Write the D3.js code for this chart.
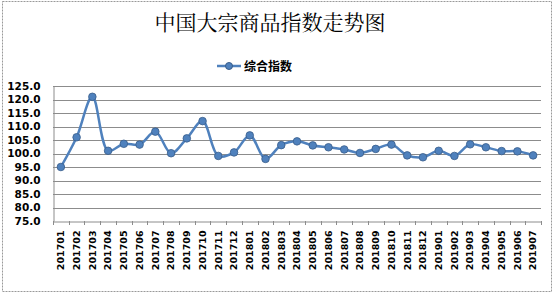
<!DOCTYPE html>
<html lang="zh">
<head>
<meta charset="utf-8" />
<script src="https://d3js.org/d3.v7.min.js"></script>
<style>
  body { margin: 0; background: #fff; }
  text { font-family: "DejaVu Sans", Verdana, sans-serif; }
</style>
</head>
<body>
<script>
// months and composite index values
const months = ["201701","201702","201703","201704","201705","201706","201707","201708","201709","201710",
  "201711","201712","201801","201802","201803","201804","201805","201806","201807","201808","201809",
  "201810","201811","201812","201901","201902","201903","201904","201905","201906","201907"];
const indexValues = [95.0, 106.0, 121.0, 101.0, 103.6, 103.3, 108.1, 100.1, 105.6, 112.0,
  99.1, 100.4, 106.7, 98.0, 103.1, 104.5, 103.0, 102.3, 101.5, 100.2, 101.7,
  103.3, 99.3, 98.6, 101.0, 99.1, 103.4, 102.3, 100.9, 100.8, 99.3];
const yTicks = [75, 80, 85, 90, 95, 100, 105, 110, 115, 120, 125];
const seriesName = "综合指数";
const title = "中国大宗商品指数走势图";

const width = 554, height = 295;
const plotLeft = 53, plotRight = 541, plotTop = 86, plotBottom = 221;

const svg = d3.select("body").append("svg")
  .attr("width", width).attr("height", height);

// chart border
svg.append("rect")
  .attr("x", 2.5).attr("y", 1.5).attr("width", 549).attr("height", 290)
  .attr("fill", "none").attr("stroke", "#999").attr("stroke-dasharray", "2,1");

svg.append("text")
  .attr("x", 270).attr("y", 30)
  .attr("text-anchor", "middle")
  .style("font-family", "'Noto Serif CJK SC','Noto Sans CJK SC',serif")
  .style("font-size", "21px")
  .text(title);

// legend
const lg = svg.append("g");
lg.append("line").attr("x1", 217).attr("x2", 241).attr("y1", 66).attr("y2", 66)
  .attr("stroke", "#4F81BD").attr("stroke-width", 2.5);
lg.append("circle").attr("cx", 229).attr("cy", 66).attr("r", 3.5)
  .attr("fill", "#4F81BD").attr("stroke", "#385D8A");
lg.append("text").attr("x", 244).attr("y", 70.5)
  .style("font-family", "'Noto Sans CJK SC',sans-serif")
  .style("font-size", "12px").style("font-weight", "bold")
  .text(seriesName);

const x = d3.scaleBand().domain(months).range([plotLeft, plotRight]);
const y = d3.scaleLinear().domain([75, 125]).range([plotBottom, plotTop]);

// gridlines
svg.append("g").selectAll("line").data(yTicks.slice(1)).join("line")
  .attr("x1", plotLeft).attr("x2", plotRight)
  .attr("y1", d => Math.round(y(d)) + 0.5).attr("y2", d => Math.round(y(d)) + 0.5)
  .attr("stroke", "#8c8c8c").attr("stroke-width", 1);

// y axis
const yAxis = svg.append("g")
  .attr("transform", `translate(${plotLeft + 0.5},0)`)
  .call(d3.axisLeft(y).tickValues(yTicks).tickFormat(d3.format(".1f")).tickSize(0).tickPadding(13));
yAxis.select(".domain").attr("stroke", "#8c8c8c");
yAxis.selectAll("text")
  .style("font-size", "10.5px").style("font-weight", "bold").attr("fill", "#000");

// x axis
const xAxis = svg.append("g")
  .attr("transform", `translate(0,${Math.round(plotBottom) + 0.5})`)
  .call(d3.axisBottom(x).tickSize(0));
xAxis.select(".domain").attr("stroke", "#8c8c8c");
xAxis.selectAll("text")
  .attr("transform", "rotate(-90)")
  .attr("text-anchor", "end")
  .attr("x", -9).attr("y", 0).attr("dy", "0.35em")
  .style("font-size", "9.5px").style("font-weight", "bold").attr("fill", "#000");
// category boundary ticks
svg.append("g").selectAll("line").data(months.concat(["end"])).join("line")
  .attr("x1", (d, i) => Math.round(plotLeft + i * x.step()) + 0.5)
  .attr("x2", (d, i) => Math.round(plotLeft + i * x.step()) + 0.5)
  .attr("y1", plotBottom).attr("y2", plotBottom + 4)
  .attr("stroke", "#8c8c8c");

// series
const line = d3.line()
  .x((d, i) => x(months[i]) + x.bandwidth() / 2)
  .y(d => y(d))
  .curve(d3.curveCatmullRom.alpha(0.5));

svg.append("path").datum(indexValues)
  .attr("d", line)
  .attr("fill", "none").attr("stroke", "#4F81BD").attr("stroke-width", 2.5);

svg.append("g").selectAll("circle").data(indexValues).join("circle")
  .attr("cx", (d, i) => x(months[i]) + x.bandwidth() / 2)
  .attr("cy", d => y(d))
  .attr("r", 3.8)
  .attr("fill", "#4F81BD").attr("stroke", "#385D8A").attr("stroke-width", 0.8);
</script>
</body>
</html>
